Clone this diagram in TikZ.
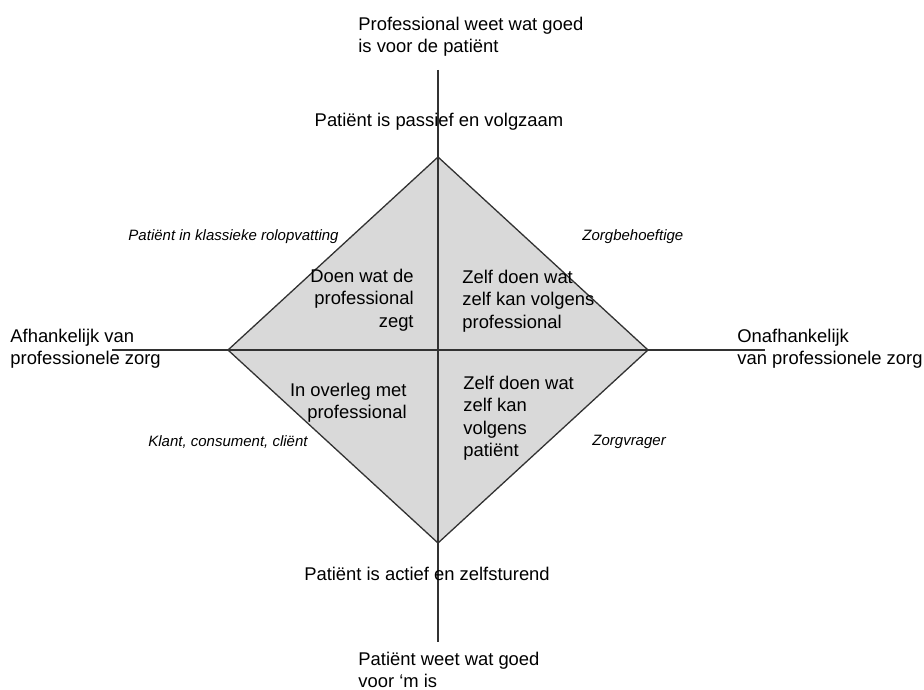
\documentclass[tikz,border=0pt]{standalone}
\usepackage{fontspec}
\setmainfont{Liberation Sans}
\usepackage{tikz}
\usepackage{xcolor}
\usetikzlibrary{positioning, calc}
\definecolor{cFill}{RGB}{217,217,217}
\definecolor{cLine}{RGB}{50,50,50}
\tikzset{
	axisline/.style ={draw=cLine, line width=0.65pt},
	quad/.style     ={fill=cFill, draw=cLine, line width=0.65pt},
	lbl/.style      ={inner sep=0pt, font=\fontsize{9.2}{11.25}\selectfont},
	rol/.style      ={inner sep=0pt, font=\fontsize{7.5}{9}\selectfont\itshape},
}
\begin{document}
\begin{tikzpicture}[x=0.5pt, y=-0.5pt]
	\useasboundingbox (0,0) rectangle (924,689);
	% diamond corners and axis ends
	\coordinate (dT) at (438,157); \coordinate (dB) at (438,543);
	\coordinate (dL) at (228,350); \coordinate (dR) at (648,350);
	\coordinate (aT) at (438,70);  \coordinate (aB) at (438,642);
	\coordinate (aL) at (112,350); \coordinate (aR) at (765,350);
	\filldraw[quad] (dT) -- (dR) -- (dB) -- (dL) -- cycle;
	\draw[axisline] (aT) -- (aB); \draw[axisline] (aL) -- (aR);
	% axis labels
	\node[lbl, anchor=west, align=left] (pro) at (358,36.5) {Professional weet wat goed\\is voor de patiënt};
	\node[lbl] (pas) at (439,122) {Patiënt is passief en volgzaam};
	\node[lbl] (act) at (427,574) {Patiënt is actief en zelfsturend};
	\node[lbl, anchor=west, align=left] (pat) at (358,670) {Patiënt weet wat goed\\voor ‘m is};
	\node[lbl, anchor=west, align=left] (afh) at (10,348.5) {Afhankelijk van\\professionele zorg};
	\node[lbl, anchor=west, align=left] (onafh) at (737,348.5) {Onafhankelijk\\van professionele zorg};
	% quadrants
	\node[lbl, anchor=east, align=right] (q1) at (414,300) {Doen wat de\\professional\\zegt};
	\node[lbl, anchor=west, align=left] (q2) at (462,301) {Zelf doen wat\\zelf kan volgens\\professional};
	\node[lbl, anchor=east, align=right] (q3) at (407,402.5) {In overleg met\\professional};
	\node[lbl, anchor=west, align=left] (q4) at (463,418) {Zelf doen wat\\zelf kan\\volgens\\patiënt};
	% roles
	\node[rol, anchor=east] (r1) at (339,237) {Patiënt in klassieke rolopvatting};
	\node[rol, anchor=west] (r2) at (582,237) {Zorgbehoeftige};
	\node[rol, anchor=east] (r3) at (308,442) {Klant, consument, cliënt};
	\node[rol, anchor=west] (r4) at (592,442) {Zorgvrager};
\end{tikzpicture}
\end{document}
